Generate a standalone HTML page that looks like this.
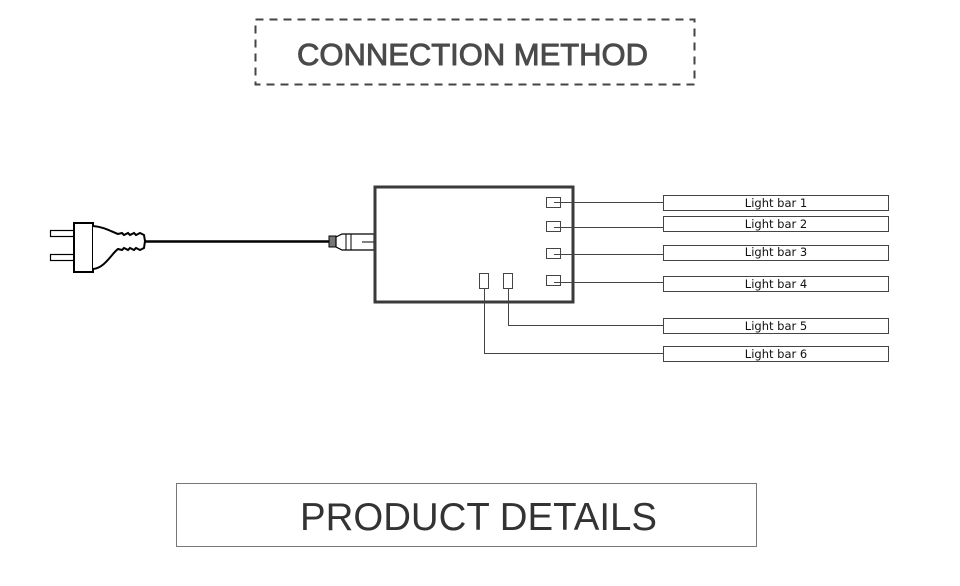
<!DOCTYPE html>
<html><head><style>html,body{margin:0;padding:0;background:#fff;width:960px;height:586px;overflow:hidden}</style></head>
<body>
<svg width="960" height="586" viewBox="0 0 960 586" xmlns="http://www.w3.org/2000/svg" font-family="Liberation Sans, DejaVu Sans, sans-serif">
<rect x="255.5" y="19.5" width="439" height="65" fill="none" stroke="#444" stroke-width="2" stroke-dasharray="8,6"/>
<text x="297" y="65" font-size="31" fill="#4a4a4a" stroke="#4a4a4a" stroke-width="0.9" textLength="351" lengthAdjust="spacingAndGlyphs">CONNECTION METHOD</text>

<!-- plug -->
<rect x="50.5" y="230.5" width="24" height="6" fill="#fff" stroke="#000" stroke-width="1.2"/>
<rect x="50.5" y="254.5" width="24" height="6" fill="#fff" stroke="#000" stroke-width="1.2"/>
<rect x="74" y="223" width="19" height="49" fill="#fff" stroke="#000" stroke-width="2"/>
<path d="M93,226 C105,227 112,232 118,234 L122,233 L124,235 L128,233 L130,235 L134,233 L136,235 L140,233 L144,235 L145,241 L144,248 L140,250 L136,248 L134,250 L130,248 L128,250 L124,248 L122,250 L118,249 C112,253 105,268 93,269" fill="#fff" stroke="#000" stroke-width="2"/>
<line x1="145" y1="241.5" x2="330" y2="241.5" stroke="#000" stroke-width="2.5"/>
<!-- connector -->
<rect x="329" y="236" width="7" height="11" fill="#777" stroke="#000" stroke-width="1"/>
<path d="M336,237 L342,234 L374,234 L374,250 L342,250 L336,247 Z" fill="#fff" stroke="#000" stroke-width="1.2"/>
<line x1="346" y1="234" x2="346" y2="250" stroke="#000" stroke-width="1"/>
<line x1="351" y1="234" x2="351" y2="250" stroke="#000" stroke-width="1"/>
<line x1="362" y1="242" x2="374" y2="242" stroke="#000" stroke-width="1"/>

<!-- controller box -->
<rect x="375" y="187" width="198" height="115" fill="#fff" stroke="#3a3a3a" stroke-width="3"/>
<g fill="#fff" stroke="#444" stroke-width="1">
<rect x="546.5" y="197.5" width="14" height="10"/>
<rect x="546.5" y="221.5" width="14" height="10"/>
<rect x="546.5" y="248.5" width="14" height="10"/>
<rect x="546.5" y="275.5" width="14" height="10"/>
<rect x="479.5" y="273.5" width="9" height="15"/>
<rect x="503.5" y="273.5" width="9" height="15"/>
</g>
<g stroke="#444" stroke-width="1" fill="none">
<line x1="554" y1="202.5" x2="663" y2="202.5"/>
<line x1="554" y1="227.5" x2="663" y2="227.5"/>
<line x1="554" y1="254.5" x2="663" y2="254.5"/>
<line x1="554" y1="282.5" x2="663" y2="282.5"/>
<polyline points="508.5,289 508.5,325.5 663,325.5"/>
<polyline points="484.5,289 484.5,353.5 663,353.5"/>
</g>
<g fill="#fff" stroke="#444" stroke-width="1">
<rect x="663.5" y="195.5" width="225" height="15"/>
<rect x="663.5" y="216.5" width="225" height="15"/>
<rect x="663.5" y="245.5" width="225" height="15"/>
<rect x="663.5" y="276.5" width="225" height="15"/>
<rect x="663.5" y="318.5" width="225" height="15"/>
<rect x="663.5" y="346.5" width="225" height="15"/>
</g>
<g font-family="DejaVu Sans, sans-serif" font-size="11.5" fill="#111" text-anchor="middle">
<text x="776" y="207">Light bar 1</text>
<text x="776" y="228">Light bar 2</text>
<text x="776" y="256">Light bar 3</text>
<text x="776" y="288">Light bar 4</text>
<text x="776" y="330">Light bar 5</text>
<text x="776" y="358">Light bar 6</text>
</g>

<rect x="176.5" y="483.5" width="580" height="63" fill="none" stroke="#777" stroke-width="1"/>
<text x="300" y="530" font-size="39" fill="#333" textLength="357" lengthAdjust="spacingAndGlyphs">PRODUCT DETAILS</text>
</svg>
</body></html>
